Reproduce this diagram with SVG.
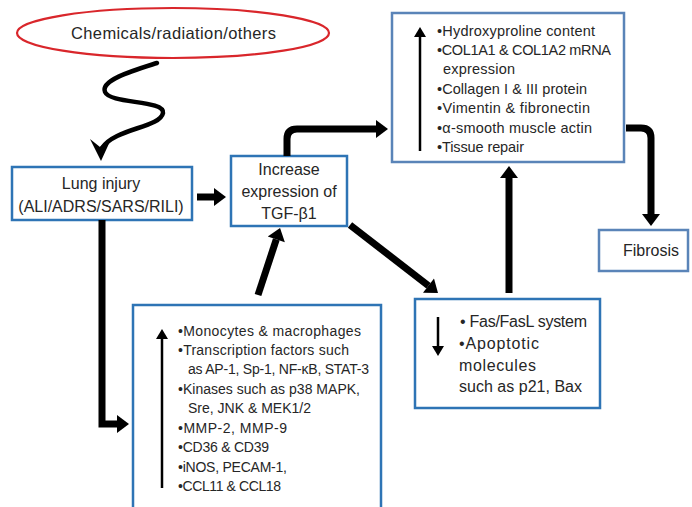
<svg xmlns="http://www.w3.org/2000/svg" width="692" height="507" viewBox="0 0 692 507">
<style>
text{font-family:"Liberation Sans",Arial,sans-serif;fill:#262626}
.box{fill:#fff;stroke:#2e74b5;stroke-width:2.5}
.box2{fill:#fff;stroke:#5a84b8;stroke-width:2.5}
.big{fill:none;stroke:#000;stroke-width:7;marker-end:url(#hd)}
.thin{fill:none;stroke:#000;stroke-width:2.5;marker-end:url(#th)}
.t16{font-size:16px}
.t14{font-size:14px}
.t145{font-size:14.5px}
.t15{font-size:16px}
</style>
<defs>
<marker id="hd" markerUnits="userSpaceOnUse" markerWidth="14" markerHeight="18" viewBox="0 0 12 18" refX="0" refY="9" orient="auto">
<path d="M0,0 L12,9 L0,18 z" fill="#000"/>
</marker>
<marker id="th" markerUnits="userSpaceOnUse" markerWidth="10" markerHeight="12" viewBox="0 0 10 12" refX="0" refY="6" orient="auto">
<path d="M0,0 L10,6 L0,12 z" fill="#000"/>
</marker>
</defs>
<rect width="692" height="507" fill="#fff"/>

<g id="chemicals">
<ellipse cx="173" cy="33" rx="156" ry="25" fill="#fff" stroke="#d9262b" stroke-width="2.2"/>
<text x="71" y="39" font-size="16.5" textLength="205" lengthAdjust="spacing">Chemicals/radiation/others</text>
</g>

<g id="lung-injury">
<rect class="box" x="12" y="167" width="180" height="53"/>
<text class="t16" x="101" y="189" text-anchor="middle">Lung injury</text>
<text class="t16" x="101" y="212" text-anchor="middle">(ALI/ADRS/SARS/RILI)</text>
</g>

<g id="tgf">
<rect class="box" x="231" y="156" width="116" height="70"/>
<text class="t16" x="289" y="175" text-anchor="middle">Increase</text>
<text class="t16" x="289" y="197" text-anchor="middle">expression of</text>
<text class="t16" x="289" y="219" text-anchor="middle">TGF-β1</text>
</g>

<g id="fibrotic-markers">
<rect class="box2" x="392" y="13" width="232" height="149"/>
<line class="thin" x1="420" y1="151" x2="420" y2="37"/>
<g class="t145">
<text x="437" y="36" textLength="158" lengthAdjust="spacing">•Hydroxyproline content</text>
<text x="437" y="55" textLength="174" lengthAdjust="spacing">•COL1A1 &amp; COL1A2  mRNA</text>
<text x="443" y="74" textLength="72" lengthAdjust="spacing">expression</text>
<text x="437" y="94" textLength="150" lengthAdjust="spacing">•Collagen I &amp; III protein</text>
<text x="437" y="113" textLength="153" lengthAdjust="spacing">•Vimentin &amp; fibronectin</text>
<text x="437" y="133" textLength="155" lengthAdjust="spacing">•α-smooth muscle actin</text>
<text x="437" y="152" textLength="87" lengthAdjust="spacing">•Tissue repair</text>
</g>
</g>

<g id="fibrosis">
<rect class="box2" x="599" y="230" width="89" height="41"/>
<text class="t16" x="651" y="256" text-anchor="middle">Fibrosis</text>
</g>

<g id="apoptosis">
<rect class="box" x="415" y="299" width="185" height="109"/>
<line class="thin" x1="438" y1="317" x2="438" y2="346"/>
<g class="t15">
<text x="460" y="327" textLength="127" lengthAdjust="spacing">• Fas/FasL system</text>
<text x="459" y="349" textLength="80" lengthAdjust="spacing">•Apoptotic</text>
<text x="459" y="371" textLength="77" lengthAdjust="spacing">molecules</text>
<text x="459" y="392" textLength="123" lengthAdjust="spacing">such as p21, Bax</text>
</g>
</g>

<g id="mediators">
<path class="box" d="M133,509 V305 H381 V509"/>
<line class="thin" x1="162" y1="488" x2="162" y2="339"/>
<g class="t14">
<text x="178" y="336" textLength="183" lengthAdjust="spacing">•Monocytes &amp; macrophages</text>
<text x="178" y="355" textLength="171" lengthAdjust="spacing">•Transcription factors such</text>
<text x="188" y="374" textLength="181" lengthAdjust="spacing">as AP-1, Sp-1, NF-κB, STAT-3</text>
<text x="178" y="394" textLength="182" lengthAdjust="spacing">•Kinases such as p38 MAPK,</text>
<text x="188" y="413" textLength="123" lengthAdjust="spacing">Sre, JNK &amp; MEK1/2</text>
<text x="178" y="433" textLength="109" lengthAdjust="spacing">•MMP-2, MMP-9</text>
<text x="178" y="452" textLength="91" lengthAdjust="spacing">•CD36 &amp; CD39</text>
<text x="178" y="472" textLength="109" lengthAdjust="spacing">•iNOS, PECAM-1,</text>
<text x="178" y="491" textLength="103" lengthAdjust="spacing">•CCL11 &amp; CCL18</text>
</g>
</g>

<g id="connectors">
<path d="M157,63 C135,70 100,80 105,92 C110,104 165,100 163,113 C160,128 115,128 102,148" fill="none" stroke="#000" stroke-width="4.5" stroke-linecap="round"/>
<path d="M101,161 L90,139 L100,147 L112,137 z" fill="#000"/>
<path class="big" d="M197,197 H214"/>
<path class="big" d="M287,156 V139 Q287,129 297,129 H376"/>
<path class="big" d="M350,225 L428.5,285.7"/>
<path class="big" d="M258,295 L276.3,239.4"/>
<path class="big" d="M509,293 V178"/>
<path class="big" d="M626,128 H641 Q651,128 651,138 V214"/>
<path class="big" d="M102,220 V424 H117" stroke-linejoin="miter"/>
</g>
</svg>
